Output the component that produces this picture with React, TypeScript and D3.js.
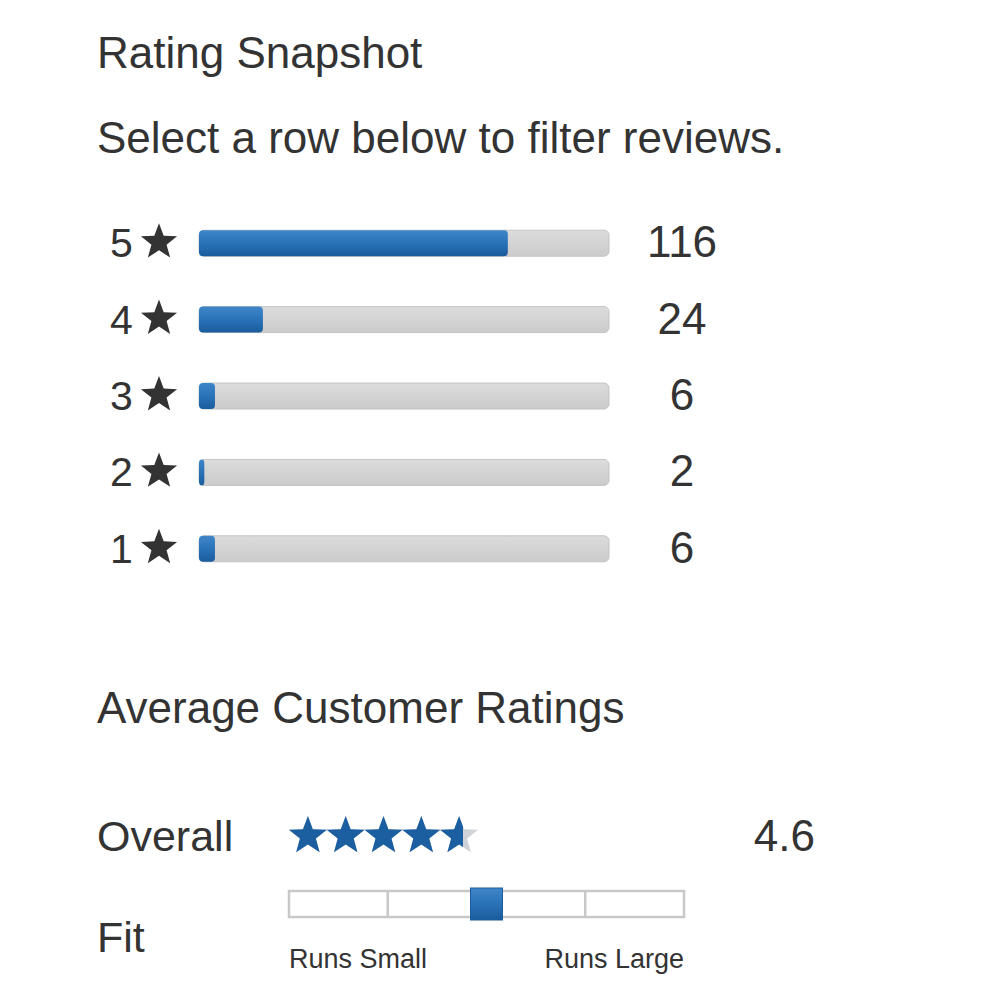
import React from "react";
import * as d3 from "d3";

const starLevels = ["5", "4", "3", "2", "1"];
const counts = [116, 24, 6, 2, 6];
const overallRating = 4.6;
const fitSegments = [0, 1, 2, 3];
const fitValue = 0.5; // 0 = runs small, 1 = runs large
const fitLabels = ["Runs Small", "Runs Large"];

const FONT = "'Liberation Sans', Arial, Helvetica, sans-serif";
const TEXT = "#333333";

function starPath(cx: number, cy: number, R: number, ratio = 0.4) {
  const pts: [number, number][] = [];
  for (let i = 0; i < 10; i++) {
    const r = i % 2 === 0 ? R : R * ratio;
    const a = -Math.PI / 2 + (i * Math.PI) / 5;
    pts.push([cx + r * Math.cos(a), cy + r * Math.sin(a)]);
  }
  return d3.line()(pts.concat([pts[0]])) + "Z";
}

export default function App() {
  const total = d3.sum(counts);
  const x = d3.scaleLinear().domain([0, total]).range([199, 609]);
  const y = d3.scaleBand<string>().domain(starLevels).range([205, 587]).paddingInner(0.66).paddingOuter(0.33);
  const bh = 26;

  const starX = d3.scaleLinear().domain([0, 5]).range([289, 478]);
  const fitX = d3.scaleLinear().domain([0, 1]).range([289, 684]);
  const segW = (fitX(1) - fitX(0)) / fitSegments.length;

  return (
    <svg width={1000} height={1000} style={{ position: "absolute", left: 0, top: 0, background: "#fff" }} fontFamily={FONT}>
      <defs>
        <linearGradient id="blueG" x1="0" y1="0" x2="0" y2="1">
          <stop offset="0" stopColor="#3f86c8" />
          <stop offset="0.5" stopColor="#2a72b8" />
          <stop offset="1" stopColor="#1a5c9c" />
        </linearGradient>
        <linearGradient id="grayG" x1="0" y1="0" x2="0" y2="1">
          <stop offset="0" stopColor="#dcdcdc" />
          <stop offset="1" stopColor="#cbcbcb" />
        </linearGradient>
        <clipPath id="ratingClip">
          <rect x={starX(0) - 2} y={800} width={starX(overallRating) - starX(0) + 2} height={80} />
        </clipPath>
      </defs>

      <text x={97} y={68} fontSize={44} fill={TEXT}>Rating Snapshot</text>
      <text x={97} y={153} fontSize={44} fill={TEXT}>Select a row below to filter reviews.</text>

      {starLevels.map((lvl, i) => {
        const top = y(lvl)!;
        const cy = top + bh / 2;
        return (
          <g key={lvl}>
            <text x={110} y={cy + 14} fontSize={41} fill={TEXT}>{lvl}</text>
            <path d={starPath(159, cy - 1, 19, 0.42)} fill={TEXT} />
            <rect x={x(0)} y={top} width={x(total) - x(0)} height={bh} rx={5} fill="url(#grayG)" stroke="#c4c4c4" strokeWidth={1} />
            {counts[i] > 0 && (
              <rect x={x(0)} y={top} width={Math.max(x(counts[i]) - x(0), 3)} height={bh} rx={4} fill="url(#blueG)" />
            )}
            <text x={682} y={cy + 14} fontSize={44} fill={TEXT} textAnchor="middle">{counts[i]}</text>
          </g>
        );
      })}

      <text x={97} y={723} fontSize={44} fill={TEXT}>Average Customer Ratings</text>

      <text x={97} y={851} fontSize={43} fill={TEXT}>Overall</text>
      {d3.range(5).map((i) => (
        <path key={"bg" + i} d={starPath(starX(i + 0.5), 836, 20, 0.42)} fill="#cfd2d6" />
      ))}
      <g clipPath="url(#ratingClip)">
        {d3.range(5).map((i) => (
          <path key={"fg" + i} d={starPath(starX(i + 0.5), 836, 20, 0.42)} fill="#1b5fa0" />
        ))}
      </g>
      <text x={815} y={851} fontSize={44} fill={TEXT} textAnchor="end">{overallRating.toFixed(1)}</text>

      <text x={97} y={952} fontSize={43} fill={TEXT}>Fit</text>
      <rect x={fitX(0)} y={891} width={fitX(1) - fitX(0)} height={26} fill="#ffffff" stroke="#c8c8c8" strokeWidth={2.5} />
      {fitSegments.slice(1).map((s) => (
        <line key={s} x1={fitX(0) + s * segW} x2={fitX(0) + s * segW} y1={891} y2={917} stroke="#c8c8c8" strokeWidth={2.5} />
      ))}
      <rect x={fitX(fitValue) - 16} y={888} width={32} height={32} fill="url(#blueG)" stroke="#1a5c9c" strokeWidth={1} />
      <text x={fitX(0)} y={968} fontSize={27} fill={TEXT}>{fitLabels[0]}</text>
      <text x={fitX(1)} y={968} fontSize={27} fill={TEXT} textAnchor="end">{fitLabels[1]}</text>
    </svg>
  );
}
